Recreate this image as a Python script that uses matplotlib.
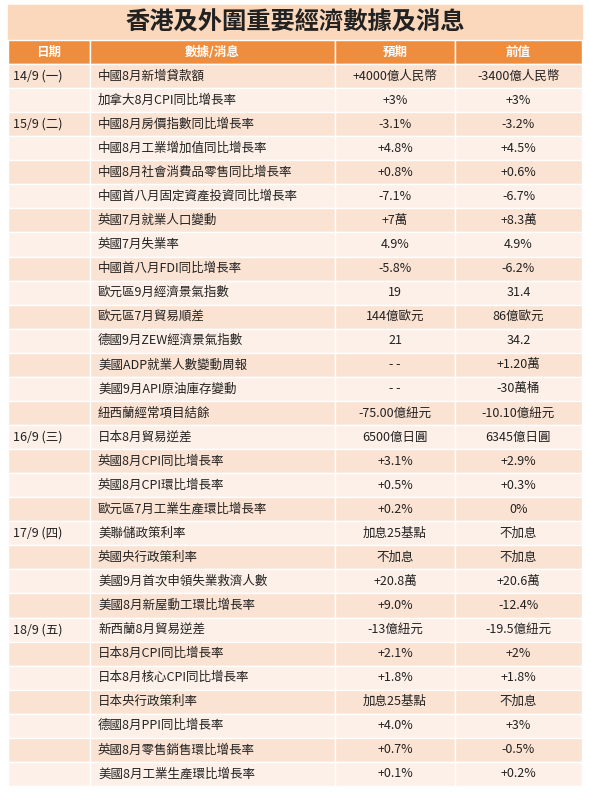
import matplotlib.pyplot as plt
from matplotlib.patches import Rectangle

plt.rcParams['font.family'] = ['Noto Sans CJK TC', 'DejaVu Sans']

TITLE = "香港及外圍重要經濟數據及消息"
HEADERS = ["日期", "數據/消息", "預期", "前值"]
DATES = ["14/9 (一)", "", "15/9 (二)", "", "", "", "", "", "", "", "", "", "", "", "",
         "16/9 (三)", "", "", "", "17/9 (四)", "", "", "", "18/9 (五)", "", "", "", "", "", ""]
ITEMS = ["中國8月新增貸款額", "加拿大8月CPI同比增長率", "中國8月房價指數同比增長率",
         "中國8月工業增加值同比增長率", "中國8月社會消費品零售同比增長率", "中國首八月固定資產投資同比增長率",
         "英國7月就業人口變動", "英國7月失業率", "中國首八月FDI同比增長率", "歐元區9月經濟景氣指數",
         "歐元區7月貿易順差", "德國9月ZEW經濟景氣指數", "美國ADP就業人數變動周報", "美國9月API原油庫存變動",
         "紐西蘭經常項目結餘", "日本8月貿易逆差", "英國8月CPI同比增長率", "英國8月CPI環比增長率",
         "歐元區7月工業生產環比增長率", "美聯儲政策利率", "英國央行政策利率", "美國9月首次申領失業救濟人數",
         "美國8月新屋動工環比增長率", "新西蘭8月貿易逆差", "日本8月CPI同比增長率", "日本8月核心CPI同比增長率",
         "日本央行政策利率", "德國8月PPI同比增長率", "英國8月零售銷售環比增長率", "美國8月工業生產環比增長率"]
EXPECTED = ["+4000億人民幣", "+3%", "-3.1%", "+4.8%", "+0.8%", "-7.1%", "+7萬", "4.9%", "-5.8%", "19",
            "144億歐元", "21", "- -", "- -", "-75.00億紐元", "6500億日圓", "+3.1%", "+0.5%", "+0.2%",
            "加息25基點", "不加息", "+20.8萬", "+9.0%", "-13億紐元", "+2.1%", "+1.8%", "加息25基點",
            "+4.0%", "+0.7%", "+0.1%"]
PREVIOUS = ["-3400億人民幣", "+3%", "-3.2%", "+4.5%", "+0.6%", "-6.7%", "+8.3萬", "4.9%", "-6.2%", "31.4",
            "86億歐元", "34.2", "+1.20萬", "-30萬桶", "-10.10億紐元", "6345億日圓", "+2.9%", "+0.3%", "0%",
            "不加息", "不加息", "+20.6萬", "-12.4%", "-19.5億紐元", "+2%", "+1.8%", "不加息",
            "+3%", "-0.5%", "+0.2%"]

W, H = 589, 793
fig = plt.figure(figsize=(W / 100, H / 100), dpi=100)
ax = fig.add_axes([0, 0, 1, 1])
ax.set_xlim(0, W)
ax.set_ylim(H, 0)
ax.axis("off")

cols = [8, 90, 335, 455, 582]
title_top, head_top, body_top, body_bot = 5, 40, 64, 786
n = len(ITEMS)
rh = (body_bot - body_top) / n

ax.add_patch(Rectangle((cols[0], title_top), cols[-1] - cols[0], head_top - title_top, color="#fbd8bb"))
ax.text((cols[0] + cols[-1]) / 2, (title_top + head_top) / 2, TITLE, ha="center", va="center",
        fontsize=17.5, fontweight="bold", color="#222222")

for i, h in enumerate(HEADERS):
    ax.add_patch(Rectangle((cols[i], head_top), cols[i + 1] - cols[i], body_top - head_top,
                           facecolor="#ef8d3f", edgecolor="white", lw=1))
    ax.text((cols[i] + cols[i + 1]) / 2, (head_top + body_top) / 2, h, ha="center", va="center",
            fontsize=9, color="white", fontweight="bold")

for r in range(n):
    y = body_top + r * rh
    fc = "#fbe3d3" if r % 2 == 0 else "#fdf0e8"
    for c in range(4):
        ax.add_patch(Rectangle((cols[c], y), cols[c + 1] - cols[c], rh, facecolor=fc,
                               edgecolor="white", lw=1))
    yc = y + rh / 2
    ax.text(cols[0] + 5, yc, DATES[r], va="center", fontsize=9, color="#222222")
    ax.text(cols[1] + 8, yc, ITEMS[r], va="center", fontsize=9, color="#222222")
    ax.text((cols[2] + cols[3]) / 2, yc, EXPECTED[r], ha="center", va="center", fontsize=9, color="#222222")
    ax.text((cols[3] + cols[4]) / 2, yc, PREVIOUS[r], ha="center", va="center", fontsize=9, color="#222222")

fig.savefig("out.png", dpi=100, facecolor="white")
